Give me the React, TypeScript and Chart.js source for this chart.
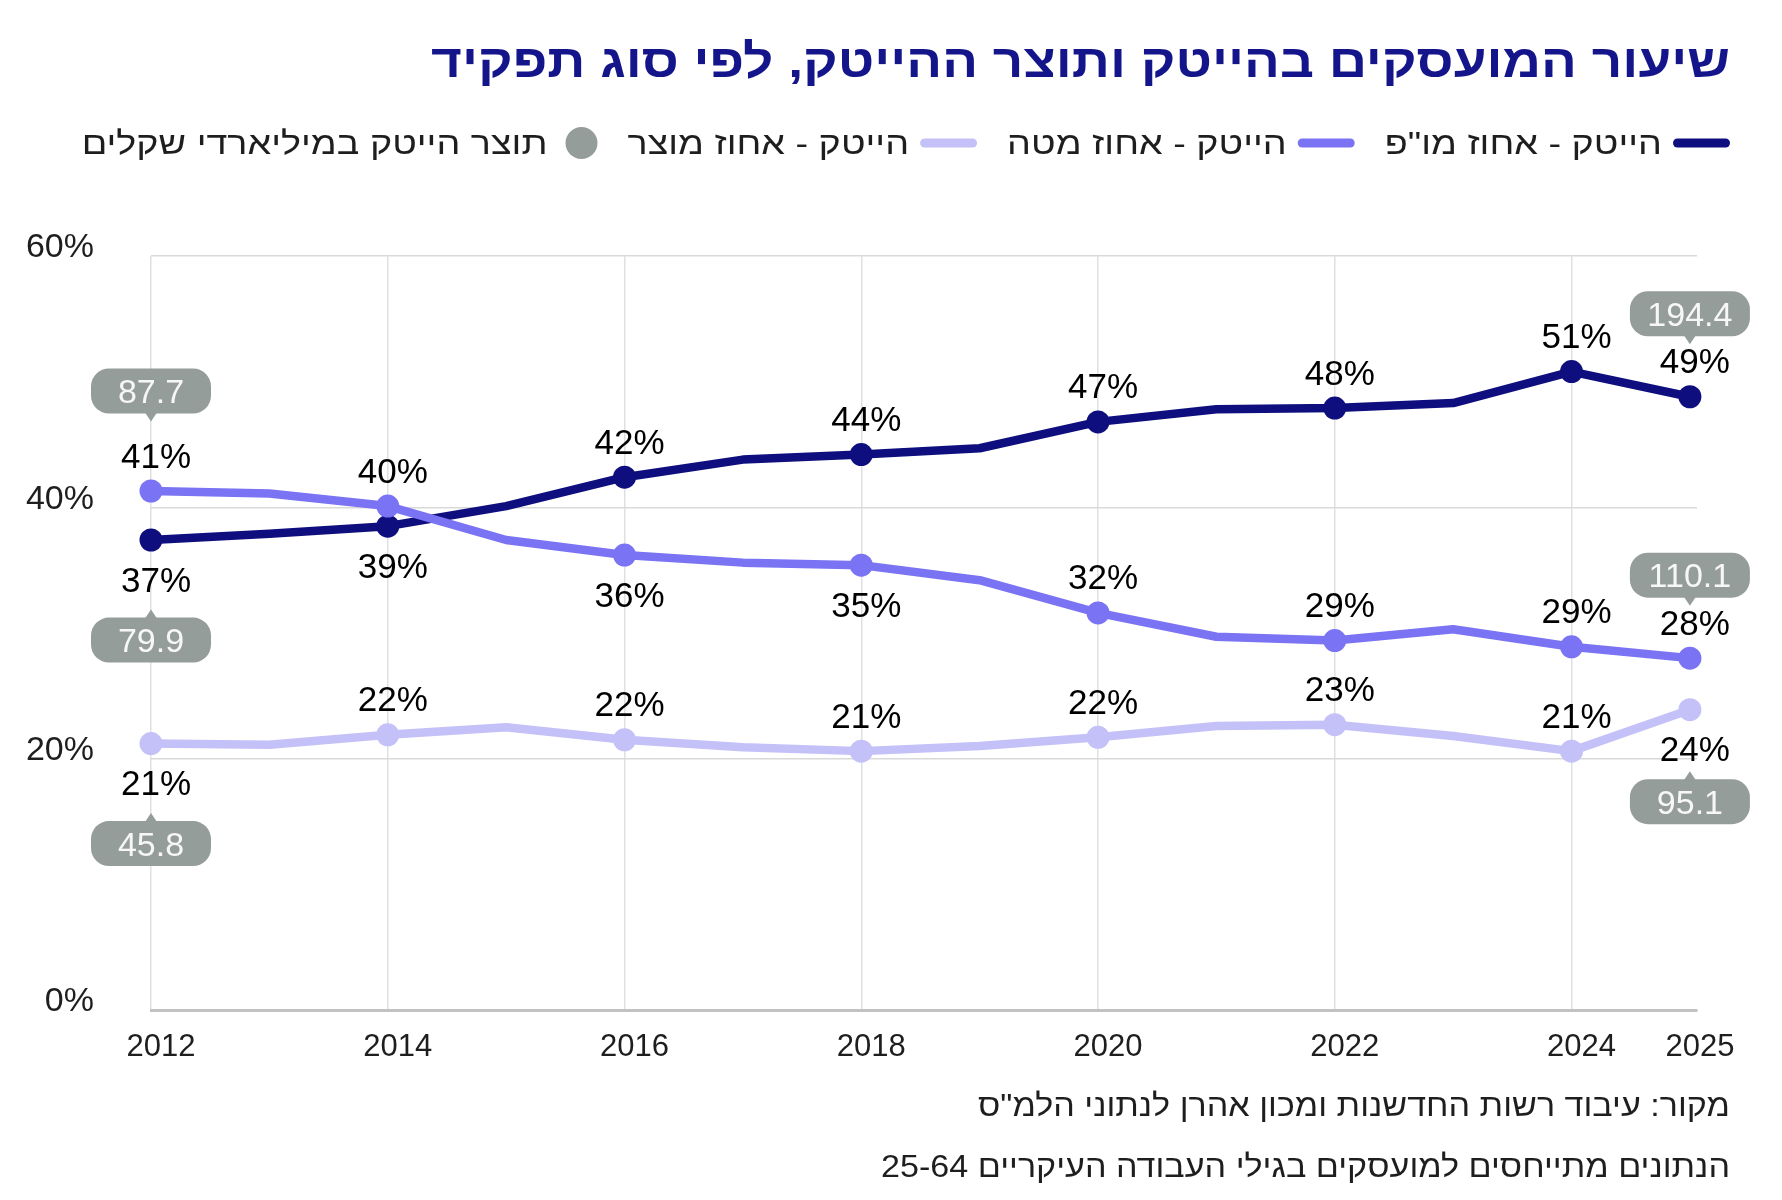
import React, { useEffect, useRef } from "react";
import { Chart, registerables } from "chart.js";

Chart.register(...registerables);

// ---- data -------------------------------------------------------------
const years = [2012, 2013, 2014, 2015, 2016, 2017, 2018, 2019, 2020, 2021, 2022, 2023, 2024, 2025];

// share of hi-tech employees by role, percent
const rndShare = [37.4, 37.9, 38.5, 40.1, 42.4, 43.8, 44.2, 44.7, 46.8, 47.8, 47.9, 48.3, 50.8, 48.8];
const staffShare = [41.3, 41.1, 40.1, 37.4, 36.2, 35.6, 35.4, 34.2, 31.6, 29.7, 29.4, 30.3, 28.9, 28.0];
const productShare = [21.2, 21.1, 21.9, 22.5, 21.5, 20.9, 20.6, 21.0, 21.7, 22.6, 22.7, 21.8, 20.6, 23.9];

// hi-tech output (NIS billions) by role, first and last year
const outputFirstYear = [79.9, 87.7, 45.8]; // מו"פ, מטה, מוצר — 2012
const outputLastYear = [194.4, 110.1, 95.1]; // מו"פ, מטה, מוצר — 2025

const xTickYears = [2012, 2014, 2016, 2018, 2020, 2022, 2024, 2025];
const yTickValues = [0, 20, 40, 60];

const seriesNames = ['הייטק - אחוז מו"פ', "הייטק - אחוז מטה", "הייטק - אחוז מוצר"];
const outputName = "תוצר הייטק במיליארדי שקלים";
const titleText = "שיעור המועסקים בהייטק ותוצר ההייטק, לפי סוג תפקיד";
const sourceNote = 'מקור: עיבוד רשות החדשנות ומכון אהרן לנתוני הלמ"ס';
const ageNote = "הנתונים מתייחסים למועסקים בגילי העבודה העיקריים 25-64";

// ---- styling ------------------------------------------------------------
const COLORS = ["#0e0e7e", "#7a73f3", "#c4c0f8"];
const BUBBLE = "#959d9a";
const INK = "#1e1e1e";
const FONT = '"Liberation Sans", "DejaVu Sans", Arial, sans-serif';

// where each percent label sits relative to its marker (labelled years only)
const labelSide: string[][] = [
  ["below", "below", "above", "above", "above", "above", "above", "above"],
  ["above", "above", "below", "below", "above", "above", "above", "above"],
  ["below", "above", "above", "above", "above", "above", "above", "below"],
];

const shares = [rndShare, staffShare, productShare];

const W = 1782;
const H = 1200;

function roundRect(ctx: CanvasRenderingContext2D, x: number, y: number, w: number, h: number, r: number) {
  ctx.beginPath();
  ctx.moveTo(x + r, y);
  ctx.lineTo(x + w - r, y);
  ctx.arcTo(x + w, y, x + w, y + r, r);
  ctx.lineTo(x + w, y + h - r);
  ctx.arcTo(x + w, y + h, x + w - r, y + h, r);
  ctx.lineTo(x + r, y + h);
  ctx.arcTo(x, y + h, x, y + h - r, r);
  ctx.lineTo(x, y + r);
  ctx.arcTo(x, y, x + r, y, r);
  ctx.closePath();
}

// right-aligned Hebrew text, widened horizontally by sx; returns drawn width
function rtlText(ctx: CanvasRenderingContext2D, text: string, right: number, baseline: number, sx: number) {
  ctx.save();
  ctx.direction = "rtl";
  ctx.textAlign = "right";
  ctx.textBaseline = "alphabetic";
  ctx.translate(right, baseline);
  ctx.scale(sx, 1);
  ctx.fillText(text, 0, 0);
  const w = ctx.measureText(text).width * sx;
  ctx.restore();
  return w;
}

const annotations = {
  id: "annotations",
  afterDatasetsDraw(chart: any) {
    const ctx: CanvasRenderingContext2D = chart.ctx;
    ctx.save();
    const labelSize = 35;
    const capH = labelSize * 0.716;
    const bw = 120;
    const bh = 45;

    shares.forEach((series, si) => {
      const meta = chart.getDatasetMeta(si);
      let k = 0;
      years.forEach((yr, i) => {
        if (!xTickYears.includes(yr)) return;
        const pt = meta.data[i];
        const side = labelSide[si][k];
        const dir = side === "above" ? -1 : 1;
        const cy = pt.y + dir * (side === "above" ? 36 : 39);
        ctx.font = `${labelSize}px ${FONT}`;
        ctx.fillStyle = "#000";
        ctx.textAlign = "center";
        ctx.textBaseline = "alphabetic";
        ctx.direction = "ltr";
        ctx.fillText(`${Math.round(series[i])}%`, pt.x + 5, cy + capH / 2);

        const isFirst = i === 0;
        const isLast = i === years.length - 1;
        if (isFirst || isLast) {
          const value = isFirst ? outputFirstYear[si] : outputLastYear[si];
          const gap = isFirst ? (dir < 0 ? 64 : 61) : dir < 0 ? 47 : 53;
          const by = cy + dir * gap;
          const bx = pt.x;
          ctx.fillStyle = BUBBLE;
          roundRect(ctx, bx - bw / 2, by - bh / 2, bw, bh, 18);
          ctx.fill();
          // pointer towards the percent label
          const edge = by - dir * (bh / 2);
          ctx.beginPath();
          ctx.moveTo(bx - 6, edge + dir * 1);
          ctx.lineTo(bx + 6, edge + dir * 1);
          ctx.lineTo(bx, edge - dir * 8);
          ctx.closePath();
          ctx.fill();
          const bubbleSize = 34;
          ctx.fillStyle = "#f7f7f7";
          ctx.font = `${bubbleSize}px ${FONT}`;
          ctx.fillText(value.toFixed(1), bx, by + (bubbleSize * 0.716) / 2);
        }
        k++;
      });
    });
    ctx.restore();
  },
  afterDraw(chart: any) {
    const ctx: CanvasRenderingContext2D = chart.ctx;
    ctx.save();

    // title
    ctx.font = `bold 47px ${FONT}`;
    ctx.fillStyle = "#15158b";
    rtlText(ctx, titleText, 1730, 77, 1.13);

    // legend, laid out right to left
    const ly = 143;
    const legendStretch = 1.18;
    ctx.font = `32px ${FONT}`;
    let x = 1730;
    seriesNames.forEach((name, i) => {
      ctx.strokeStyle = COLORS[i];
      ctx.lineWidth = 9;
      ctx.lineCap = "round";
      ctx.beginPath();
      ctx.moveTo(x - 4.5, ly);
      ctx.lineTo(x - 52.5, ly);
      ctx.stroke();
      x -= 57 + 11;
      ctx.fillStyle = INK;
      const w = rtlText(ctx, name, x, ly + 11, legendStretch);
      x -= w + 30;
    });
    ctx.fillStyle = BUBBLE;
    ctx.beginPath();
    ctx.arc(x - 16, ly, 16, 0, Math.PI * 2);
    ctx.fill();
    x -= 32 + 18;
    ctx.fillStyle = INK;
    rtlText(ctx, outputName, x, ly + 11, legendStretch);

    // notes
    ctx.font = `31px ${FONT}`;
    ctx.fillStyle = INK;
    rtlText(ctx, sourceNote, 1730, 1116, 1.1);
    rtlText(ctx, ageNote, 1730, 1177, 1.1);
    ctx.restore();
  },
};

export default function App() {
  const canvasRef = useRef<HTMLCanvasElement | null>(null);

  useEffect(() => {
    const canvas = canvasRef.current;
    if (!canvas) return;

    const datasets = shares.map((series, si) => ({
      label: seriesNames[si],
      data: years.map((yr, i) => ({ x: yr, y: series[i] })),
      borderColor: COLORS[si],
      backgroundColor: COLORS[si],
      borderWidth: 8.5,
      borderJoinStyle: "round" as const,
      borderCapStyle: "round" as const,
      tension: 0,
      clip: false as const,
      pointRadius: years.map((yr) => (xTickYears.includes(yr) ? 11.5 : 0)),
      pointHoverRadius: 0,
      pointBorderWidth: 0,
      pointBackgroundColor: COLORS[si],
      order: si === 1 ? 0 : si === 0 ? 1 : 2,
    }));

    const chart = new Chart(canvas, {
      type: "line",
      data: { datasets },
      plugins: [annotations],
      options: {
        responsive: false,
        animation: false,
        devicePixelRatio: 1,
        layout: { padding: { top: 256, right: 85, bottom: 0, left: 0 } },
        plugins: {
          legend: { display: false },
          title: { display: false },
          tooltip: { enabled: false },
        },
        scales: {
          x: {
            type: "linear",
            min: 2012,
            max: 2025.06,
            afterBuildTicks: (scale: any) => {
              scale.ticks = xTickYears.map((v) => ({ value: v }));
            },
            afterFit: (scale: any) => {
              scale.height = 190;
            },
            grid: {
              color: (c: any) => (c.tick && c.tick.value === 2025 ? "rgba(0,0,0,0)" : "#dde0e4"),
              lineWidth: 1.5,
              drawTicks: false,
            },
            border: { color: "#c2c2c2", width: 3 },
            ticks: {
              autoSkip: false,
              maxRotation: 0,
              padding: 19,
              labelOffset: 10,
              color: INK,
              font: { family: FONT, size: 31 },
              callback: (v: any) => String(v),
            },
          },
          y: {
            min: 0,
            max: 60,
            afterBuildTicks: (scale: any) => {
              scale.ticks = yTickValues.map((v) => ({ value: v }));
            },
            afterFit: (scale: any) => {
              scale.width = 151;
            },
            grid: {
              color: (c: any) => (c.tick && c.tick.value === 0 ? "rgba(0,0,0,0)" : "#d9d9d9"),
              lineWidth: 1.5,
              drawTicks: false,
            },
            border: { display: false },
            ticks: {
              padding: 57,
              labelOffset: -8,
              color: INK,
              font: { family: FONT, size: 34 },
              callback: (v: any) => `${v}%`,
            },
          },
        },
      },
    });

    return () => chart.destroy();
  }, []);

  return (
    <div style={{ position: "fixed", left: 0, top: 0, width: W, height: H, background: "#fff" }}>
      <canvas ref={canvasRef} width={W} height={H} style={{ display: "block", width: W, height: H }} />
    </div>
  );
}
